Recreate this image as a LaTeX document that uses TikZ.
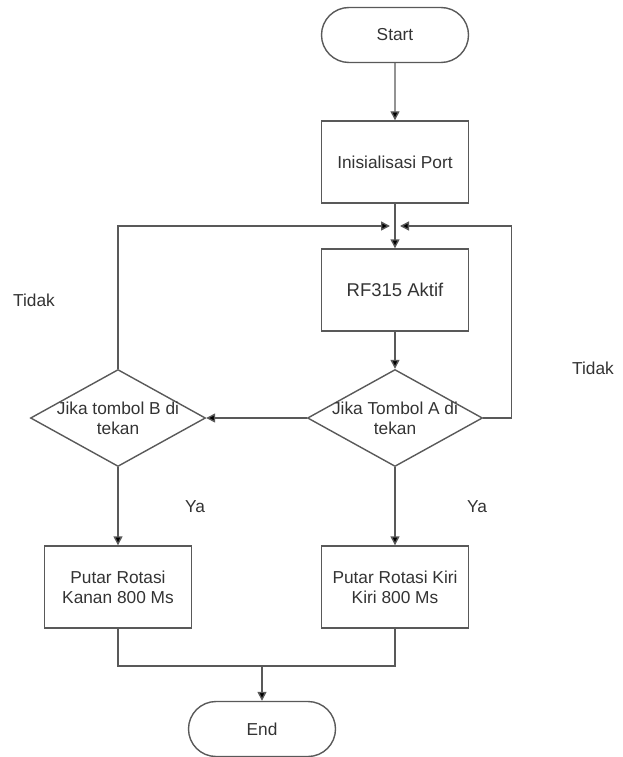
\documentclass[tikz,border=0pt]{standalone}
\usepackage{fontspec}
\setmainfont{Liberation Sans}
\usetikzlibrary{shapes.geometric,shapes.misc,arrows.meta}
\begin{document}
\begin{tikzpicture}[x=1pt,y=-1pt,
  every node/.style={font=\fontsize{17.3}{20}\selectfont, text=black!80},
  ln/.style={draw=black!65, line width=1.4pt},
  arr/.style={ln, -{Triangle[length=9pt,width=9pt,fill=black]}},
  boxs/.style={ln, rectangle, minimum width=147pt, minimum height=82pt, align=center, inner sep=0pt},
  term/.style={ln, rounded rectangle, minimum width=147pt, minimum height=55pt, inner sep=0pt},
  dia/.style={ln, diamond, aspect=1.8, minimum width=175pt, minimum height=97pt, inner sep=0pt,
    label={[align=center, text=black!80]center:#1}},
  lbl/.style={font=\fontsize{17.3}{20}\selectfont}
]
\useasboundingbox (0,0) rectangle (623,757);
\node[term] (start) at (395,35) {Start};
\node[boxs] (init) at (395,162) {Inisialisasi Port};
\node[boxs] (rf) at (395,290) {\fontsize{18.5}{20}\selectfont RF315 Aktif};
\node[dia={Jika Tombol A di\\tekan}] (da) at (395,418) {};
\node[dia={Jika tombol B di\\tekan}] (db) at (118,418) {};
\node[boxs] (kanan) at (118,587) {Putar Rotasi\\Kanan 800 Ms};
\node[boxs] (kiri) at (395,587) {Putar Rotasi Kiri\\Kiri 800 Ms};
\node[term] (end) at (262,729) {End};
\coordinate (j) at (395,226);
\coordinate (bot) at (262,666);

\draw[arr] (start) -- (init);
\draw[arr] (init) -- (rf);
\draw[arr] (rf) -- (da);
\draw[arr] (da.west) -- (db.east);
\draw[arr] (db.north) |- ([xshift=-5pt]j);
\draw[arr] (da.east) -- ++(28,0) |- ([xshift=5pt]j);
\draw[arr] (db.south) -- (kanan.north);
\draw[arr] (da.south) -- (kiri.north);
\draw[ln] (kanan.south) |- (bot);
\draw[ln] (kiri.south) |- (bot);
\draw[arr] (bot) -- (end.north);

\node[lbl] (t1) at (34,300) {Tidak};
\node[lbl] (t2) at (593,368) {Tidak};
\node[lbl] (y1) at (195,507) {Ya};
\node[lbl] (y2) at (477,507) {Ya};
\end{tikzpicture}
\end{document}
